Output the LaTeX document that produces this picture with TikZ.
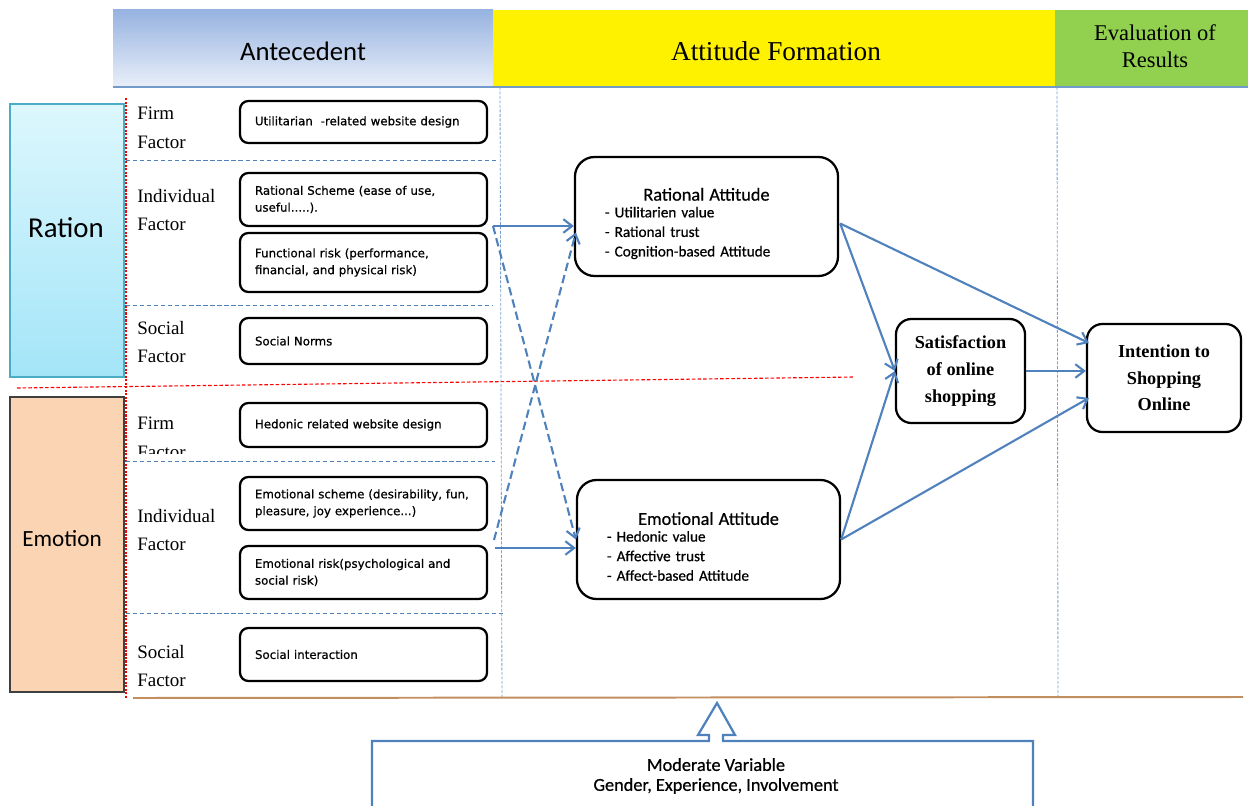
\documentclass[tikz,border=0pt]{standalone}
\usepackage{fontspec}
\setmainfont{Liberation Serif}
\setsansfont{Carlito}
\newfontfamily\boxfont[FakeBold=0.6]{DejaVu Sans}
\newfontfamily\notefont[FakeBold=0.6]{Carlito}
\usetikzlibrary{arrows.meta,calc}

\definecolor{linkblue}{HTML}{4F81BD}
\definecolor{headblue}{HTML}{97B3E0}
\definecolor{headlight}{HTML}{E9EFF9}
\definecolor{rationtop}{HTML}{DDF7FD}
\definecolor{rationbot}{HTML}{A3E5F8}
\definecolor{rationedge}{HTML}{4BACC6}
\definecolor{emotionfill}{HTML}{FBD4B4}
\definecolor{evalgreen}{HTML}{92D050}
\definecolor{groundbrown}{HTML}{C38E5F}

\begin{document}
\begin{tikzpicture}[x=0.025cm,y=-0.025cm,
  >={Straight Barb[length=2.2mm,width=3.4mm]},
  item/.style={draw,line width=1.6pt,rounded corners=6pt,inner xsep=0.375cm,inner ysep=0pt,
    text width=5.425cm,align=left,font=\boxfont\fontsize{8.4}{12}\selectfont},
  attitude/.style={draw,line width=1.6pt,rounded corners=14pt,minimum width=6.575cm,
    minimum height=2.975cm,inner xsep=0.75cm,text width=5.075cm,align=left,
    font=\notefont\fontsize{10.8}{13.9}\selectfont},
  outcome/.style={draw,line width=1.6pt,rounded corners=11pt,align=center,
    font=\bfseries\fontsize{13}{19}\selectfont},
  factor/.style={anchor=west,align=left,inner sep=0pt,font=\fontsize{13.5}{20.6}\selectfont},
  flow/.style={->,linkblue,line width=1.5pt},
  sep/.style={linkblue,line width=0.7pt,dash pattern=on 3pt off 2pt},
  split/.style={linkblue!75,line width=0.6pt,dash pattern=on 2pt off 1.2pt}]

\useasboundingbox (0,0) rectangle (1248,806);

% header bands
\shade[top color=headblue,bottom color=headlight] (113,10) rectangle (493,87);
\fill[yellow] (493,10) rectangle (1055,87);
\fill[evalgreen] (1055,10) rectangle (1248,87);
\draw[linkblue!80,line width=0.8pt] (113,87) -- (1248,87);

\node[font=\sffamily\fontsize{19}{23}\selectfont] (ante) at (303,51) {Antecedent};
\node[font=\fontsize{19.4}{23}\selectfont] (form) at (776,51) {Attitude Formation};
\node[align=center,font=\fontsize{16}{19}\selectfont] (eval) at (1155,46) {Evaluation of\\Results};

% ration / emotion
\shadedraw[top color=rationtop,bottom color=rationbot,draw=rationedge,line width=1.2pt] (10,104) rectangle (124,377);
\filldraw[fill=emotionfill,draw=black!75,line width=1.2pt] (10,397) rectangle (124,692);
\node[font=\sffamily\fontsize{20.5}{24}\selectfont] (ration) at (66,228) {Ration};
\node[font=\sffamily\fontsize{16.5}{20}\selectfont] (emotion) at (62,539) {Emotion};

% grid lines
\draw[red,line width=0.8pt,dash pattern=on 1.5pt off 1pt] (126,98) -- (126,698);
\draw[red,line width=0.8pt,dash pattern=on 2.5pt off 1.5pt] (17,388) -- (855,377);
\draw[sep] (126,160) -- (496,160);
\draw[sep] (126,305) -- (493,305);
\draw[sep] (126,461) -- (495,461);
\draw[sep] (126,613) -- (503,613);
\draw[split] (500,87) -- (502,698);
\draw[split] (1057,87) -- (1058,697);
\draw[groundbrown,line width=1.4pt] (133,698) -- (1243,697);

% factor labels
\node[factor] (firmr) at (137,128) {Firm\\Factor};
\node[factor] (indr) at (137,210) {Individual\\Factor};
\node[factor] (socr) at (137,342) {Social\\Factor};
\begin{scope}
\clip (126,400) rectangle (240,453);
\node[factor] (firme) at (137,438) {Firm\\Factor};
\end{scope}
\node[factor] (inde) at (137,530) {Individual\\Factor};
\node[factor] (soce) at (137,666) {Social\\Factor};

% antecedent boxes
\node[item,minimum height=1.05cm] (util) at (363.5,122) {Utilitarian~ -related website design};
\node[item,minimum height=1.325cm] (rsch) at (363.5,199.5) {Rational Scheme (ease of use,\\useful.....).};
\node[item,minimum height=1.475cm] (frisk) at (363.5,262.5) {Functional risk (performance,\\financial, and physical risk)};
\node[item,minimum height=1.15cm] (norm) at (363.5,341) {Social Norms};
\node[item,minimum height=1.1cm] (hedo) at (363.5,425) {Hedonic related website design};
\node[item,minimum height=1.325cm] (esch) at (363.5,503.5) {Emotional scheme (desirability, fun,\\pleasure, joy experience...)};
\node[item,minimum height=1.325cm] (erisk) at (363.5,572.5) {Emotional risk(psychological and\\social risk)};
\node[item,minimum height=1.325cm] (inter) at (363.5,654.5) {Social interaction};

% attitudes and results
\node[attitude] (rat) at (706.5,216.5) {\makebox[\hsize]{\rule{0pt}{19pt}\fontsize{13}{16}\selectfont Rational Attitude}\\[-2pt]
  - Utilitarien value\\- Rational trust\\- Cognition-based Attitude};
\node[attitude] (emo) at (708.5,539.5) {\makebox[\hsize]{\rule{0pt}{19pt}\fontsize{13}{16}\selectfont Emotional Attitude}\\[-2pt]
  - Hedonic value\\- Affective trust\\- Affect-based Attitude};
\node[outcome,minimum width=3.225cm,minimum height=2.6cm] (sat) at (960.5,371) {Satisfaction\\of online\\shopping};
\node[outcome,minimum width=3.85cm,minimum height=2.7cm] (int) at (1164,378) {Intention to\\Shopping\\Online};

% links
\coordinate (ratsrc) at (493,226);
\coordinate (emosrc) at (495,548);
\draw[flow] (ratsrc) -- (rat.west |- ratsrc);
\draw[flow] (emosrc) -- (emo.west |- emosrc);
\draw[flow,dash pattern=on 6pt off 3pt] (ratsrc) -- (emo.west);
\draw[flow,dash pattern=on 6pt off 3pt] ($(emosrc)+(-1,-8)$) -- ($(rat.west)+(2,16)$);
\draw[flow] ($(rat.east)+(1,7)$) -- (sat.west);
\draw[flow] ($(rat.east)+(1,7)$) -- ($(int.west)+(3,-35)$);
\draw[flow] (emo.east) -- (sat.west);
\draw[flow] (emo.east) -- ($(int.west)+(3,20)$);
\draw[flow] (sat.east) -- (int.west |- sat.east);

% moderator
\draw[linkblue,line width=1.6pt] (372,806) -- (372,741) -- (709,741) -- (709,735) -- (698,735)
  -- (717,703) -- (735,735) -- (723,735) -- (723,741) -- (1033,741) -- (1033,806);
\node[align=center,font=\notefont\fontsize{13}{14.2}\selectfont] (moder) at (716,776) {Moderate Variable\\Gender, Experience, Involvement};

\end{tikzpicture}
\end{document}
